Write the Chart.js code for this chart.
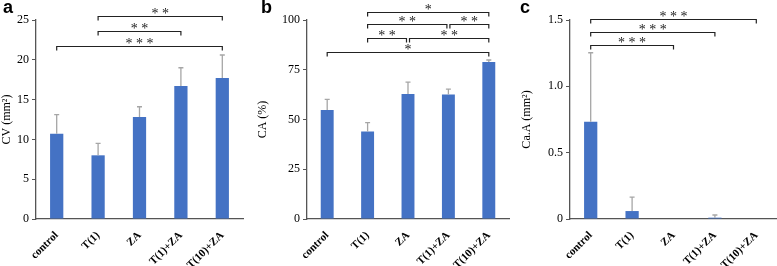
<!DOCTYPE html>
<html>
<head>
<meta charset="utf-8">
<script src="https://cdn.jsdelivr.net/npm/chart.js@4"></script>
<style>
    html, body {
        margin: 0;
        padding: 0;
        background: #ffffff;
        width: 777px;
        height: 266px;
        overflow: hidden;
    }
    .panel {
        position: absolute;
        top: 0;
        height: 266px;
    }
    .letter {
        position: absolute;
        top: -3px;
        font-family: "Liberation Sans", Arial, sans-serif;
        font-weight: bold;
        font-size: 18px;
        color: #000;
    }
</style>
</head>
<body>

<div class="panel" style="left:0px;width:250px"><canvas id="chartA"></canvas></div>
<div class="panel" style="left:256px;width:256px"><canvas id="chartB"></canvas></div>
<div class="panel" style="left:520px;width:257px"><canvas id="chartC"></canvas></div>

<div class="letter" style="left:3px">a</div>
<div class="letter" style="left:261px">b</div>
<div class="letter" style="left:520px">c</div>

<script>

    const grupos = ["control", "T(1)", "ZA", "T(1)+ZA", "T(10)+ZA"];

    // a: CV (mm²)
    const cvMedia = [10.7, 8.0, 12.8, 16.7, 17.7];
    const cvError = [2.4, 1.5, 1.3, 2.3, 2.9];
    const cvTicks = [0, 5, 10, 15, 20, 25];

    // b: CA (%)
    const caMedia = [54.8, 44.0, 62.8, 62.6, 78.9];
    const caError = [5.3, 4.4, 6.0, 2.7, 1.0];
    const caTicks = [0, 25, 50, 75, 100];

    // c: Ca.A (mm²)
    const caaMedia = [0.733, 0.06, 0, 0.01, 0];
    const caaError = [0.52, 0.105, 0, 0.02, 0];
    const caaTicks = [0, 0.5, 1, 1.5];

    // comparaciones: [desde, hasta, nivel, estrellas]
    const cvSig = [
        [1, 4, 25.5, "* *"],
        [1, 3, 23.6, "* *"],
        [0, 4, 21.7, "* * *"]
    ];
    const caSig = [
        [1, 4, 104, "*"],
        [1, 3, 98, "* *"],
        [3, 4, 98, "* *"],
        [1, 2, 91, "* *"],
        [2, 4, 91, "* *"],
        [0, 4, 84, "*"]
    ];
    const caaSig = [
        [0, 4, 1.51, "* * *"],
        [0, 3, 1.41, "* * *"],
        [0, 2, 1.31, "* * *"]
    ];

    const serif = "'Liberation Serif', 'Times New Roman', serif";
    const azul = "#4472c4";
    const ejeColor = "#555555";


    /* =========================
       BARRAS DE ERROR Y CORCHETES
    ========================= */

    const anotaciones = {
        id: "anotaciones",
        afterDatasetsDraw(chart, args, opts) {
            const ctx = chart.ctx;
            const y = chart.scales.y;
            const meta = chart.getDatasetMeta(0);
            const medias = chart.data.datasets[0].data;

            ctx.save();

            // error bars (upper only)
            ctx.strokeStyle = "#a6a6a6";
            ctx.lineWidth = 1.3;
            opts.errores.forEach((e, i) => {
                if (!e) return;
                const x = meta.data[i].x;
                const y0 = y.getPixelForValue(medias[i]);
                const y1 = y.getPixelForValue(medias[i] + e);
                ctx.beginPath();
                ctx.moveTo(x, y0);
                ctx.lineTo(x, y1);
                ctx.moveTo(x - 2.5, y1);
                ctx.lineTo(x + 2.5, y1);
                ctx.stroke();
            });

            // significance brackets
            ctx.strokeStyle = "#222222";
            ctx.fillStyle = "#222222";
            ctx.lineWidth = 1.2;
            ctx.font = "14px " + serif;
            ctx.textAlign = "center";
            ctx.textBaseline = "alphabetic";

            opts.corchetes.forEach(([a, b, nivel, txt]) => {
                const compartidoA = opts.corchetes.some(c => c[1] === a && c[2] === nivel);
                const compartidoB = opts.corchetes.some(c => c[0] === b && c[2] === nivel);
                const xa = meta.data[a].x + (compartidoA ? 1.5 : 0);
                const xb = meta.data[b].x - (compartidoB ? 1.5 : 0);
                const yy = Math.round(y.getPixelForValue(nivel)) + 0.5;

                ctx.beginPath();
                ctx.moveTo(xa, yy + 4);
                ctx.lineTo(xa, yy);
                ctx.lineTo(xb, yy);
                ctx.lineTo(xb, yy + 4);
                ctx.stroke();

                ctx.fillText(txt, (xa + xb) / 2, yy + 1.5);
            });

            ctx.restore();
        }
    };


    function crearGrafico(id, medias, errores, ticks, corchetes, titulo, anchoY, derecha) {

        const ctx = document.getElementById(id).getContext("2d");

        return new Chart(ctx, {
            type: "bar",
            data: {
                labels: grupos,
                datasets: [{
                    data: medias,
                    backgroundColor: azul,
                    barPercentage: 0.32,
                    categoryPercentage: 1
                }]
            },
            options: {
                responsive: true,
                maintainAspectRatio: false,
                animation: false,
                events: [],
                layout: {
                    padding: { top: 20, left: 0, right: derecha, bottom: 0 }
                },
                plugins: {
                    legend: { display: false },
                    tooltip: { enabled: false },
                    anotaciones: {
                        errores: errores,
                        corchetes: corchetes
                    }
                },
                scales: {
                    x: {
                        grid: { display: false },
                        border: { display: true, color: ejeColor, width: 1.3 },
                        ticks: {
                            color: "#000",
                            autoSkip: false,
                            minRotation: 45,
                            maxRotation: 45,
                            padding: 2,
                            font: { family: serif, size: 11, weight: "bold" }
                        },
                        afterFit(scale) {
                            scale.height = 47;
                        }
                    },
                    y: {
                        min: ticks[0],
                        max: ticks[ticks.length - 1],
                        afterBuildTicks(scale) {
                            scale.ticks = ticks.map(v => ({ value: v }));
                        },
                        grid: {
                            drawOnChartArea: false,
                            tickLength: 4,
                            color: ejeColor
                        },
                        border: { display: true, color: ejeColor, width: 1.3 },
                        ticks: {
                            color: "#000",
                            padding: 3,
                            font: { family: serif, size: 12 }
                        },
                        title: {
                            display: true,
                            text: titulo,
                            color: "#000",
                            padding: 0,
                            font: { family: serif, size: 12 }
                        },
                        afterFit(scale) {
                            scale.width = anchoY;
                        }
                    }
                }
            },
            plugins: [anotaciones]
        });
    }


    crearGrafico("chartA", cvMedia, cvError, cvTicks, cvSig, "CV (mm\u00b2)", 36, 7);
    crearGrafico("chartB", caMedia, caError, caTicks, caSig, "CA (%)", 51, 3);
    crearGrafico("chartC", caaMedia, caaError, caaTicks, caaSig, "Ca.A (mm\u00b2)", 50, 0);

</script>
</body>
</html>
